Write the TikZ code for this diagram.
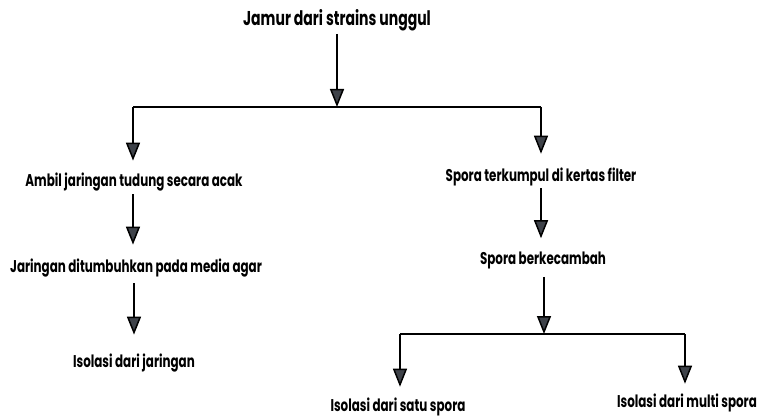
\documentclass[tikz,border=0pt]{standalone}
\usepackage{fontspec}
\setmainfont{Poppins}[FakeStretch=0.7]
\usetikzlibrary{arrows.meta}
\definecolor{tipgray}{HTML}{3E4249}
\tikzset{
  lbl/.style={inner sep=0pt, font=\fontsize{17}{20}\selectfont\bfseries},
  toplbl/.style={inner sep=0pt, font=\fontsize{20}{24}\selectfont\bfseries},
  arr/.style={draw=black, line width=1.5pt, -{Triangle[width=14pt,length=18pt,fill=tipgray]}},
  ln/.style={draw=black, line width=1.5pt},
}
\begin{document}
\begin{tikzpicture}[x=1pt,y=-1pt]
\useasboundingbox (0,0) rectangle (764,420);
\node[toplbl] (top) at (337,20) {Jamur dari strains unggul};
\coordinate (j1) at (337,107);
\coordinate (jl) at (133,107);
\coordinate (jr) at (541,107);
\node[lbl] (ambil) at (134,182) {Ambil jaringan tudung secara acak};
\node[lbl] (jar) at (136,268) {Jaringan ditumbuhkan pada media agar};
\node[lbl] (isoj) at (134,363) {Isolasi dari jaringan};
\node[lbl] (spk) at (541,177) {Spora terkumpul di kertas filter};
\node[lbl] (spb) at (543,260) {Spora berkecambah};
\coordinate (j2) at (544,334);
\coordinate (jl2) at (400,334);
\coordinate (jr2) at (685,334);
\node[lbl] (sat) at (398,407) {Isolasi dari satu spora};
\node[lbl] (mul) at (687,403) {Isolasi dari multi spora};
% connectors
\draw[arr, shorten <=3pt] (top.south -| j1) -- (j1);
\draw[ln] (jl) -- (jr);
\draw[arr, shorten >=12pt] (jl) -- (jl |- ambil.north);
\draw[arr, shorten >=14pt] (jr) -- (jr |- spk.north);
\draw[arr, shorten <=3pt, shorten >=14pt] (ambil.south -| jl) -- (jl |- jar.north);
\draw[arr, shorten <=6pt, shorten >=19pt] (jar.south -| isoj) -- (isoj.north);
\draw[arr, shorten <=2pt, shorten >=13pt] (spk.south -| jr) -- (jr |- spb.north);
\draw[arr, shorten <=8pt] (spb.south -| j2) -- (j2);
\draw[ln] (jl2) -- (jr2);
\draw[arr, shorten >=11pt] (jl2) -- (jl2 |- sat.north);
\draw[arr, shorten >=10pt] (jr2) -- (jr2 |- mul.north);
\end{tikzpicture}
\end{document}
